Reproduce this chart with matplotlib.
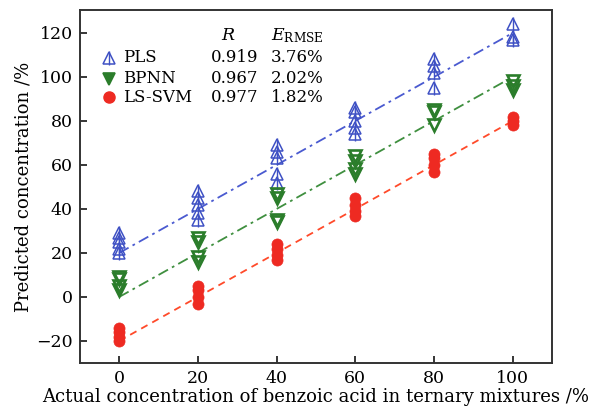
import matplotlib
matplotlib.use('Agg')
import matplotlib.pyplot as plt
import numpy as np

plt.rcParams['font.family'] = ['DejaVu Serif']
plt.rcParams['mathtext.fontset'] = 'dejavuserif'

# ── 데이터 ────────────────────────────────────────────────
X_LEVELS = [0, 20, 40, 60, 80, 100]

PLS_PRED = [
    [20, 22, 25, 27, 29],
    [35, 38, 42, 45, 48],
    [52, 56, 63, 66, 69],
    [74, 77, 80, 84, 86],
    [95, 102, 105, 108],
    [117, 118, 124],
]
BPNN_PRED = [
    [3, 5, 8, 9],
    [16, 18, 25, 27],
    [34, 35, 45, 47],
    [56, 58, 62, 64],
    [78, 84, 85],
    [94, 96, 98],
]
SVM_PRED = [
    [-14, -16, -18, -20],
    [-3, 0, 3, 5],
    [17, 19, 22, 24],
    [37, 39, 42, 45],
    [57, 60, 63, 65],
    [78, 80, 82],
]

FIT_X = [0, 100]
PLS_FIT = [20, 120]
BPNN_FIT = [0, 100]
SVM_FIT = [-20, 80]

NAMES = ['PLS', 'BPNN', 'LS-SVM']
R_VALS = ['0.919', '0.967', '0.977']
RMSE_VALS = ['3.76%', '2.02%', '1.82%']

BLUE, GREEN, RED = '#3f51c4', '#2b7d2b', '#ee2a22'


def flat(levels, groups):
    xs, ys = [], []
    for x, g in zip(levels, groups):
        xs += [x] * len(g)
        ys += g
    return xs, ys


fig = plt.figure(figsize=(5.91, 4.12), dpi=100)
ax = fig.add_axes([0.135, 0.119, 0.799, 0.857])

# 추세선
ax.plot(FIT_X, PLS_FIT, color='#4a5ad0', lw=1.3, ls=(0, (6, 2.5, 1.5, 2.5)))
ax.plot(FIT_X, BPNN_FIT, color='#3f8f3f', lw=1.3, ls=(0, (6, 2.5, 1.5, 2.5)))
ax.plot(FIT_X, SVM_FIT, color='#ff4a2a', lw=1.3, ls=(0, (4, 3)))

# 산점도
px, py = flat(X_LEVELS, PLS_PRED)
ax.plot(px, py, ls='none', marker='^', ms=8.5, mfc='none', mec=BLUE, mew=1.1)
ax.plot(px, py, ls='none', marker='|', ms=10, mec=BLUE, mew=1.0)
bx, by = flat(X_LEVELS, BPNN_PRED)
ax.plot(bx, by, ls='none', marker='v', ms=8.5, mfc='none', mec=GREEN, mew=1.9)
sx, sy = flat(X_LEVELS, SVM_PRED)
ax.plot(sx, sy, ls='none', marker='o', ms=8, mfc=RED, mec=RED, mew=0.5)

ax.set_xlim(-10, 110)
ax.set_ylim(-30, 130.5)
ax.set_xticks(X_LEVELS)
ax.set_yticks(range(-20, 121, 20))
ax.set_yticklabels(['\u221220' if v < 0 else str(v) for v in range(-20, 121, 20)])
ax.tick_params(direction='in', length=5, width=1.1, labelsize=12.5, pad=5)
for s in ax.spines.values():
    s.set_linewidth(1.4)
    s.set_color('#333333')

ax.set_xlabel('Actual concentration of benzoic acid in ternary mixtures /%',
              fontsize=13, labelpad=1)
ax.set_ylabel('Predicted concentration /%', fontsize=13, labelpad=3)

# ── 범례 (수동) ───────────────────────────────────────────
row_y = [0.865, 0.805, 0.752]
ax.text(0.315, 0.928, '$R$', transform=ax.transAxes, fontsize=12.5,
        ha='center', va='center')
ax.text(0.405, 0.928, r'$E_{\mathrm{RMSE}}$', transform=ax.transAxes,
        fontsize=12.5, ha='left', va='center')
hx = 0.062
ax.plot([hx], [row_y[0]], transform=ax.transAxes, marker='^', ms=8.5,
        mfc='none', mec=BLUE, mew=1.1, clip_on=False)
ax.plot([hx], [row_y[0]], transform=ax.transAxes, marker='|', ms=10,
        mec=BLUE, mew=1.0, clip_on=False)
ax.plot([hx], [row_y[1]], transform=ax.transAxes, marker='v', ms=8.5,
        mfc=GREEN, mec=GREEN, mew=1.2, clip_on=False)
ax.plot([hx], [row_y[2]], transform=ax.transAxes, marker='o', ms=8,
        mfc=RED, mec=RED, clip_on=False)
for i in range(3):
    ax.text(0.092, row_y[i], NAMES[i], transform=ax.transAxes, fontsize=12,
            va='center')
    ax.text(0.278, row_y[i], R_VALS[i], transform=ax.transAxes, fontsize=12,
            va='center')
    ax.text(0.405, row_y[i], RMSE_VALS[i], transform=ax.transAxes,
            fontsize=12, va='center')

fig.savefig('out.png', dpi=100)
